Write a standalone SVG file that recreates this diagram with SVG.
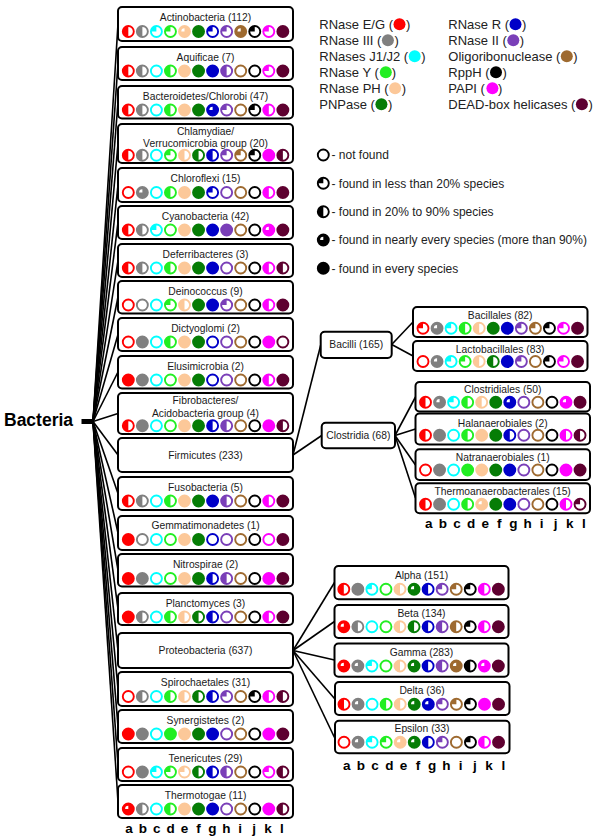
<svg xmlns="http://www.w3.org/2000/svg" xmlns:xlink="http://www.w3.org/1999/xlink" width="600" height="839" viewBox="0 0 600 839">
<style>
.box{fill:#fff;stroke:#000;stroke-width:2}
.t{font-family:"Liberation Sans",Arial,sans-serif;font-size:10.3px;text-anchor:middle;fill:#1a1a1a}
.lg{font-family:"Liberation Sans",Arial,sans-serif;font-size:13px;fill:#222}
.st{font-family:"Liberation Sans",Arial,sans-serif;font-size:12px;fill:#222}
.lt{font-family:"Liberation Sans",Arial,sans-serif;font-size:13.5px;font-weight:bold;text-anchor:middle;fill:#000}
.big{font-family:"Liberation Sans",Arial,sans-serif;font-size:17.5px;font-weight:bold;fill:#000}
.con line{stroke:#000;stroke-width:1.6}
.ca{color:#ff0000}.cb{color:#808080}.cc{color:#00ffff}.cd{color:#22ee22}.ce{color:#fcc899}.cf{color:#067d06}
.cg{color:#0000c8}.ch{color:#7a3fb8}.ci{color:#9e6a30}.cj{color:#000}.ck{color:#ff00ff}.cl{color:#5e0030}
</style>
<defs>
<g id="N"><circle r="5.5" fill="#fff" stroke="currentColor" stroke-width="1.9"/></g>
<g id="L"><circle r="5.5" fill="#fff" stroke="currentColor" stroke-width="1.9"/><path d="M0,0H-5.5A5.5,5.5 0 0 1 0,-5.5Z" fill="currentColor"/></g>
<g id="H"><circle r="5.5" fill="#fff" stroke="currentColor" stroke-width="1.9"/><path d="M0,-5.5A5.5,5.5 0 0 0 0,5.5Z" fill="currentColor"/></g>
<g id="A"><circle r="5.5" fill="currentColor" stroke="currentColor" stroke-width="1.9"/><path d="M0,0H-3.2A3.2,3.2 0 0 1 0,-3.2Z" fill="#fff"/></g>
<g id="F"><circle r="5.5" fill="currentColor" stroke="currentColor" stroke-width="1.9"/></g>
</defs>
<rect width="600" height="839" fill="#fff"/>

<g id="connectors" class="con">
<line x1="93" y1="421.5" x2="118" y2="24"/>
<line x1="93" y1="421.5" x2="118" y2="63.5"/>
<line x1="93" y1="421.5" x2="118" y2="102"/>
<line x1="93" y1="421.5" x2="118" y2="143.5"/>
<line x1="93" y1="421.5" x2="118" y2="185"/>
<line x1="93" y1="421.5" x2="118" y2="222.5"/>
<line x1="93" y1="421.5" x2="118" y2="260.5"/>
<line x1="93" y1="421.5" x2="118" y2="297"/>
<line x1="93" y1="421.5" x2="118" y2="334.5"/>
<line x1="93" y1="421.5" x2="118" y2="372"/>
<line x1="93" y1="421.5" x2="118" y2="413.5"/>
<line x1="93" y1="421.5" x2="118" y2="455"/>
<line x1="93" y1="421.5" x2="118" y2="493.5"/>
<line x1="93" y1="421.5" x2="118" y2="533"/>
<line x1="93" y1="421.5" x2="118" y2="570"/>
<line x1="93" y1="421.5" x2="118" y2="609"/>
<line x1="93" y1="421.5" x2="118" y2="650.5"/>
<line x1="93" y1="421.5" x2="118" y2="689"/>
<line x1="93" y1="421.5" x2="118" y2="726.5"/>
<line x1="93" y1="421.5" x2="118" y2="764.5"/>
<line x1="93" y1="421.5" x2="118" y2="801.5"/>
<line x1="293" y1="455" x2="320.7" y2="345"/>
<line x1="293" y1="455" x2="321.7" y2="435.5"/>
<line x1="391.7" y1="344.5" x2="413" y2="322"/>
<line x1="391.7" y1="344.5" x2="413" y2="356"/>
<line x1="395" y1="435.5" x2="415.5" y2="397"/>
<line x1="395" y1="435.5" x2="415.5" y2="429"/>
<line x1="395" y1="435.5" x2="415.5" y2="465"/>
<line x1="395" y1="435.5" x2="415.5" y2="498"/>
<line x1="293" y1="650.5" x2="334.5" y2="582.5"/>
<line x1="293" y1="650.5" x2="334.5" y2="621.5"/>
<line x1="293" y1="650.5" x2="334.5" y2="660"/>
<line x1="293" y1="650.5" x2="334.5" y2="698.5"/>
<line x1="293" y1="650.5" x2="334.5" y2="737.5"/>
</g>

<g id="bacteria">
<text class="big" x="4" y="426">Bacteria</text>
<rect x="81.5" y="419" width="12" height="5" fill="#000"/>
</g>

<g id="actinobacteria" transform="translate(118,7)"><rect class="box" width="175" height="34" rx="4"/><text class="t" x="87.5" y="13.5">Actinobacteria (112)</text>
<g transform="translate(10.3,24.5)"><use href="#H" class="ca"/><use href="#H" class="cb" x="14.05"/><use href="#L" class="cc" x="28.1"/><use href="#L" class="cd" x="42.15"/><use href="#A" class="ce" x="56.2"/><use href="#F" class="cf" x="70.25"/><use href="#L" class="cg" x="84.3"/><use href="#L" class="ch" x="98.35"/><use href="#A" class="ci" x="112.4"/><use href="#L" class="cj" x="126.45"/><use href="#L" class="ck" x="140.5"/><use href="#F" class="cl" x="154.55"/></g></g>

<g id="aquificae" transform="translate(118,47)"><rect class="box" width="175" height="33" rx="4"/><text class="t" x="87.5" y="13.5">Aquificae (7)</text>
<g transform="translate(10.3,24)"><use href="#H" class="ca"/><use href="#H" class="cb" x="14.05"/><use href="#N" class="cc" x="28.1"/><use href="#H" class="cd" x="42.15"/><use href="#F" class="ce" x="56.2"/><use href="#F" class="cf" x="70.25"/><use href="#F" class="cg" x="84.3"/><use href="#H" class="ch" x="98.35"/><use href="#N" class="ci" x="112.4"/><use href="#N" class="cj" x="126.45"/><use href="#L" class="ck" x="140.5"/><use href="#F" class="cl" x="154.55"/></g></g>

<g id="bacteroidetes" transform="translate(118,86)"><rect class="box" width="175" height="32.5" rx="4"/><text class="t" x="87.5" y="13.5">Bacteroidetes/Chlorobi (47)</text>
<g transform="translate(10.3,24)"><use href="#H" class="ca"/><use href="#H" class="cb" x="14.05"/><use href="#N" class="cc" x="28.1"/><use href="#H" class="cd" x="42.15"/><use href="#F" class="ce" x="56.2"/><use href="#F" class="cf" x="70.25"/><use href="#A" class="cg" x="84.3"/><use href="#L" class="ch" x="98.35"/><use href="#N" class="ci" x="112.4"/><use href="#L" class="cj" x="126.45"/><use href="#H" class="ck" x="140.5"/><use href="#F" class="cl" x="154.55"/></g></g>

<g id="chlamydiae" transform="translate(118,124)"><rect class="box" width="175" height="39" rx="4"/><text class="t" x="87.5" y="10.5">Chlamydiae/</text><text class="t" x="87.5" y="23">Verrucomicrobia group (20)</text>
<g transform="translate(10.3,31.3)"><use href="#H" class="ca"/><use href="#H" class="cb" x="14.05"/><use href="#N" class="cc" x="28.1"/><use href="#L" class="cd" x="42.15"/><use href="#H" class="ce" x="56.2"/><use href="#H" class="cf" x="70.25"/><use href="#H" class="cg" x="84.3"/><use href="#L" class="ch" x="98.35"/><use href="#L" class="ci" x="112.4"/><use href="#L" class="cj" x="126.45"/><use href="#F" class="ck" x="140.5"/><use href="#H" class="cl" x="154.55"/></g></g>

<g id="chloroflexi" transform="translate(118,168)"><rect class="box" width="175" height="34" rx="4"/><text class="t" x="87.5" y="13.5">Chloroflexi (15)</text>
<g transform="translate(10.3,24.5)"><use href="#N" class="ca"/><use href="#A" class="cb" x="14.05"/><use href="#N" class="cc" x="28.1"/><use href="#H" class="cd" x="42.15"/><use href="#F" class="ce" x="56.2"/><use href="#F" class="cf" x="70.25"/><use href="#L" class="cg" x="84.3"/><use href="#N" class="ch" x="98.35"/><use href="#N" class="ci" x="112.4"/><use href="#N" class="cj" x="126.45"/><use href="#H" class="ck" x="140.5"/><use href="#F" class="cl" x="154.55"/></g></g>

<g id="cyanobacteria" transform="translate(118,206)"><rect class="box" width="175" height="33" rx="4"/><text class="t" x="87.5" y="13.5">Cyanobacteria (42)</text>
<g transform="translate(10.3,24)"><use href="#H" class="ca"/><use href="#H" class="cb" x="14.05"/><use href="#L" class="cc" x="28.1"/><use href="#N" class="cd" x="42.15"/><use href="#F" class="ce" x="56.2"/><use href="#F" class="cf" x="70.25"/><use href="#F" class="cg" x="84.3"/><use href="#F" class="ch" x="98.35"/><use href="#N" class="ci" x="112.4"/><use href="#N" class="cj" x="126.45"/><use href="#A" class="ck" x="140.5"/><use href="#F" class="cl" x="154.55"/></g></g>

<g id="deferribacteres" transform="translate(118,244)"><rect class="box" width="175" height="33" rx="4"/><text class="t" x="87.5" y="13.5">Deferribacteres (3)</text>
<g transform="translate(10.3,24)"><use href="#H" class="ca"/><use href="#H" class="cb" x="14.05"/><use href="#N" class="cc" x="28.1"/><use href="#H" class="cd" x="42.15"/><use href="#F" class="ce" x="56.2"/><use href="#F" class="cf" x="70.25"/><use href="#F" class="cg" x="84.3"/><use href="#N" class="ch" x="98.35"/><use href="#N" class="ci" x="112.4"/><use href="#N" class="cj" x="126.45"/><use href="#H" class="ck" x="140.5"/><use href="#H" class="cl" x="154.55"/></g></g>

<g id="deinococcus" transform="translate(118,281)"><rect class="box" width="175" height="32.5" rx="4"/><text class="t" x="87.5" y="13.5">Deinococcus (9)</text>
<g transform="translate(10.3,24)"><use href="#N" class="ca"/><use href="#N" class="cb" x="14.05"/><use href="#N" class="cc" x="28.1"/><use href="#L" class="cd" x="42.15"/><use href="#H" class="ce" x="56.2"/><use href="#F" class="cf" x="70.25"/><use href="#F" class="cg" x="84.3"/><use href="#L" class="ch" x="98.35"/><use href="#N" class="ci" x="112.4"/><use href="#N" class="cj" x="126.45"/><use href="#H" class="ck" x="140.5"/><use href="#F" class="cl" x="154.55"/></g></g>

<g id="dictyoglomi" transform="translate(118,318)"><rect class="box" width="175" height="33" rx="4"/><text class="t" x="87.5" y="13.5">Dictyoglomi (2)</text>
<g transform="translate(10.3,24)"><use href="#N" class="ca"/><use href="#F" class="cb" x="14.05"/><use href="#N" class="cc" x="28.1"/><use href="#H" class="cd" x="42.15"/><use href="#F" class="ce" x="56.2"/><use href="#F" class="cf" x="70.25"/><use href="#N" class="cg" x="84.3"/><use href="#N" class="ch" x="98.35"/><use href="#N" class="ci" x="112.4"/><use href="#N" class="cj" x="126.45"/><use href="#F" class="ck" x="140.5"/><use href="#N" class="cl" x="154.55"/></g></g>

<g id="elusimicrobia" transform="translate(118,356)"><rect class="box" width="175" height="32.5" rx="4"/><text class="t" x="87.5" y="13.5">Elusimicrobia (2)</text>
<g transform="translate(10.3,24)"><use href="#F" class="ca"/><use href="#F" class="cb" x="14.05"/><use href="#N" class="cc" x="28.1"/><use href="#N" class="cd" x="42.15"/><use href="#F" class="ce" x="56.2"/><use href="#F" class="cf" x="70.25"/><use href="#N" class="cg" x="84.3"/><use href="#N" class="ch" x="98.35"/><use href="#N" class="ci" x="112.4"/><use href="#N" class="cj" x="126.45"/><use href="#H" class="ck" x="140.5"/><use href="#F" class="cl" x="154.55"/></g></g>

<g id="fibrobacteres" transform="translate(118,393)"><rect class="box" width="175" height="41" rx="4"/><text class="t" x="87.5" y="11">Fibrobacteres/</text><text class="t" x="87.5" y="24">Acidobacteria group (4)</text>
<g transform="translate(10.3,32.7)"><use href="#H" class="ca"/><use href="#F" class="cb" x="14.05"/><use href="#N" class="cc" x="28.1"/><use href="#N" class="cd" x="42.15"/><use href="#F" class="ce" x="56.2"/><use href="#F" class="cf" x="70.25"/><use href="#H" class="cg" x="84.3"/><use href="#H" class="ch" x="98.35"/><use href="#N" class="ci" x="112.4"/><use href="#N" class="cj" x="126.45"/><use href="#F" class="ck" x="140.5"/><use href="#H" class="cl" x="154.55"/></g></g>

<g id="firmicutes" transform="translate(118,438)"><rect class="box" width="175" height="34" rx="4"/><text class="t" x="87.5" y="20.5">Firmicutes (233)</text></g>

<g id="fusobacteria" transform="translate(118,477)"><rect class="box" width="175" height="33" rx="4"/><text class="t" x="87.5" y="13.5">Fusobacteria (5)</text>
<g transform="translate(10.3,24)"><use href="#H" class="ca"/><use href="#H" class="cb" x="14.05"/><use href="#N" class="cc" x="28.1"/><use href="#H" class="cd" x="42.15"/><use href="#F" class="ce" x="56.2"/><use href="#F" class="cf" x="70.25"/><use href="#F" class="cg" x="84.3"/><use href="#H" class="ch" x="98.35"/><use href="#N" class="ci" x="112.4"/><use href="#N" class="cj" x="126.45"/><use href="#H" class="ck" x="140.5"/><use href="#F" class="cl" x="154.55"/></g></g>

<g id="gemmatimonadetes" transform="translate(118,516)"><rect class="box" width="175" height="34" rx="4"/><text class="t" x="87.5" y="12.5">Gemmatimonadetes (1)</text>
<g transform="translate(10.3,23.5)"><use href="#F" class="ca"/><use href="#N" class="cb" x="14.05"/><use href="#N" class="cc" x="28.1"/><use href="#N" class="cd" x="42.15"/><use href="#F" class="ce" x="56.2"/><use href="#F" class="cf" x="70.25"/><use href="#N" class="cg" x="84.3"/><use href="#N" class="ch" x="98.35"/><use href="#N" class="ci" x="112.4"/><use href="#N" class="cj" x="126.45"/><use href="#N" class="ck" x="140.5"/><use href="#F" class="cl" x="154.55"/></g></g>

<g id="nitrospirae" transform="translate(118,554)"><rect class="box" width="175" height="32.5" rx="4"/><text class="t" x="87.5" y="13.5">Nitrospirae (2)</text>
<g transform="translate(10.3,24.5)"><use href="#F" class="ca"/><use href="#F" class="cb" x="14.05"/><use href="#N" class="cc" x="28.1"/><use href="#N" class="cd" x="42.15"/><use href="#F" class="ce" x="56.2"/><use href="#F" class="cf" x="70.25"/><use href="#H" class="cg" x="84.3"/><use href="#H" class="ch" x="98.35"/><use href="#N" class="ci" x="112.4"/><use href="#N" class="cj" x="126.45"/><use href="#F" class="ck" x="140.5"/><use href="#F" class="cl" x="154.55"/></g></g>

<g id="planctomyces" transform="translate(118,593)"><rect class="box" width="175" height="32" rx="4"/><text class="t" x="87.5" y="13.5">Planctomyces (3)</text>
<g transform="translate(10.3,24)"><use href="#F" class="ca"/><use href="#H" class="cb" x="14.05"/><use href="#N" class="cc" x="28.1"/><use href="#H" class="cd" x="42.15"/><use href="#H" class="ce" x="56.2"/><use href="#H" class="cf" x="70.25"/><use href="#H" class="cg" x="84.3"/><use href="#N" class="ch" x="98.35"/><use href="#N" class="ci" x="112.4"/><use href="#N" class="cj" x="126.45"/><use href="#H" class="ck" x="140.5"/><use href="#F" class="cl" x="154.55"/></g></g>

<g id="proteobacteria" transform="translate(118,633)"><rect class="box" width="175" height="35" rx="4"/><text class="t" x="87.5" y="20.5">Proteobacteria (637)</text></g>

<g id="spirochaetales" transform="translate(118,672)"><rect class="box" width="175" height="34" rx="4"/><text class="t" x="87.5" y="13.5">Spirochaetales (31)</text>
<g transform="translate(10.3,24.5)"><use href="#N" class="ca"/><use href="#H" class="cb" x="14.05"/><use href="#N" class="cc" x="28.1"/><use href="#H" class="cd" x="42.15"/><use href="#H" class="ce" x="56.2"/><use href="#H" class="cf" x="70.25"/><use href="#H" class="cg" x="84.3"/><use href="#L" class="ch" x="98.35"/><use href="#N" class="ci" x="112.4"/><use href="#L" class="cj" x="126.45"/><use href="#H" class="ck" x="140.5"/><use href="#H" class="cl" x="154.55"/></g></g>

<g id="synergistetes" transform="translate(118,710)"><rect class="box" width="175" height="33" rx="4"/><text class="t" x="87.5" y="13.5">Synergistetes (2)</text>
<g transform="translate(10.3,24)"><use href="#F" class="ca"/><use href="#F" class="cb" x="14.05"/><use href="#N" class="cc" x="28.1"/><use href="#F" class="cd" x="42.15"/><use href="#F" class="ce" x="56.2"/><use href="#F" class="cf" x="70.25"/><use href="#F" class="cg" x="84.3"/><use href="#N" class="ch" x="98.35"/><use href="#N" class="ci" x="112.4"/><use href="#N" class="cj" x="126.45"/><use href="#F" class="ck" x="140.5"/><use href="#F" class="cl" x="154.55"/></g></g>

<g id="tenericutes" transform="translate(118,748)"><rect class="box" width="175" height="33" rx="4"/><text class="t" x="87.5" y="13.5">Tenericutes (29)</text>
<g transform="translate(10.3,24)"><use href="#N" class="ca"/><use href="#F" class="cb" x="14.05"/><use href="#L" class="cc" x="28.1"/><use href="#L" class="cd" x="42.15"/><use href="#L" class="ce" x="56.2"/><use href="#H" class="cf" x="70.25"/><use href="#H" class="cg" x="84.3"/><use href="#H" class="ch" x="98.35"/><use href="#N" class="ci" x="112.4"/><use href="#N" class="cj" x="126.45"/><use href="#L" class="ck" x="140.5"/><use href="#H" class="cl" x="154.55"/></g></g>

<g id="thermotogae" transform="translate(118,785)"><rect class="box" width="175" height="33" rx="4"/><text class="t" x="87.5" y="13.5">Thermotogae (11)</text>
<g transform="translate(10.3,24)"><use href="#A" class="ca"/><use href="#H" class="cb" x="14.05"/><use href="#N" class="cc" x="28.1"/><use href="#H" class="cd" x="42.15"/><use href="#F" class="ce" x="56.2"/><use href="#F" class="cf" x="70.25"/><use href="#F" class="cg" x="84.3"/><use href="#N" class="ch" x="98.35"/><use href="#N" class="ci" x="112.4"/><use href="#N" class="cj" x="126.45"/><use href="#F" class="ck" x="140.5"/><use href="#H" class="cl" x="154.55"/></g></g>

<g id="bacilli" transform="translate(320.7,331.7)"><rect class="box" width="71" height="26.3" rx="4"/><text class="t" x="35.5" y="16.5">Bacilli (165)</text></g>
<g id="clostridia" transform="translate(321.7,422.7)"><rect class="box" width="73.3" height="25.5" rx="4"/><text class="t" x="36.6" y="16.5">Clostridia (68)</text></g>

<g id="bacillales" transform="translate(413,307)"><rect class="box" width="174.5" height="30" rx="4"/><text class="t" x="87.2" y="11.5">Bacillales (82)</text>
<g transform="translate(10,21.3)"><use href="#L" class="ca"/><use href="#A" class="cb" x="14.05"/><use href="#L" class="cc" x="28.1"/><use href="#H" class="cd" x="42.15"/><use href="#H" class="ce" x="56.2"/><use href="#F" class="cf" x="70.25"/><use href="#F" class="cg" x="84.3"/><use href="#L" class="ch" x="98.35"/><use href="#L" class="ci" x="112.4"/><use href="#L" class="cj" x="126.45"/><use href="#L" class="ck" x="140.5"/><use href="#F" class="cl" x="154.55"/></g></g>

<g id="lactobacillales" transform="translate(413,341)"><rect class="box" width="174.5" height="30" rx="4"/><text class="t" x="87.2" y="12">Lactobacillales (83)</text>
<g transform="translate(10,20.5)"><use href="#N" class="ca"/><use href="#A" class="cb" x="14.05"/><use href="#L" class="cc" x="28.1"/><use href="#L" class="cd" x="42.15"/><use href="#H" class="ce" x="56.2"/><use href="#H" class="cf" x="70.25"/><use href="#F" class="cg" x="84.3"/><use href="#L" class="ch" x="98.35"/><use href="#N" class="ci" x="112.4"/><use href="#L" class="cj" x="126.45"/><use href="#L" class="ck" x="140.5"/><use href="#F" class="cl" x="154.55"/></g></g>

<g id="clostridiales" transform="translate(415.5,382)"><rect class="box" width="174.5" height="29.5" rx="4"/><text class="t" x="87.2" y="11.3">Clostridiales (50)</text>
<g transform="translate(10,20.3)"><use href="#H" class="ca"/><use href="#A" class="cb" x="14.05"/><use href="#L" class="cc" x="28.1"/><use href="#H" class="cd" x="42.15"/><use href="#H" class="ce" x="56.2"/><use href="#F" class="cf" x="70.25"/><use href="#A" class="cg" x="84.3"/><use href="#N" class="ch" x="98.35"/><use href="#N" class="ci" x="112.4"/><use href="#N" class="cj" x="126.45"/><use href="#A" class="ck" x="140.5"/><use href="#F" class="cl" x="154.55"/></g></g>

<g id="halanaerobiales" transform="translate(415.5,413.5)"><rect class="box" width="174.5" height="31" rx="4"/><text class="t" x="87.2" y="13.5">Halanaerobiales (2)</text>
<g transform="translate(10,21.8)"><use href="#H" class="ca"/><use href="#F" class="cb" x="14.05"/><use href="#N" class="cc" x="28.1"/><use href="#H" class="cd" x="42.15"/><use href="#F" class="ce" x="56.2"/><use href="#F" class="cf" x="70.25"/><use href="#H" class="cg" x="84.3"/><use href="#N" class="ch" x="98.35"/><use href="#N" class="ci" x="112.4"/><use href="#N" class="cj" x="126.45"/><use href="#H" class="ck" x="140.5"/><use href="#H" class="cl" x="154.55"/></g></g>

<g id="natranaerobiales" transform="translate(415.5,449.3)"><rect class="box" width="174.5" height="30.7" rx="4"/><text class="t" x="87.2" y="11.4">Natranaerobiales (1)</text>
<g transform="translate(10,20.7)"><use href="#N" class="ca"/><use href="#F" class="cb" x="14.05"/><use href="#N" class="cc" x="28.1"/><use href="#F" class="cd" x="42.15"/><use href="#F" class="ce" x="56.2"/><use href="#F" class="cf" x="70.25"/><use href="#F" class="cg" x="84.3"/><use href="#N" class="ch" x="98.35"/><use href="#N" class="ci" x="112.4"/><use href="#N" class="cj" x="126.45"/><use href="#F" class="ck" x="140.5"/><use href="#F" class="cl" x="154.55"/></g></g>

<g id="thermoanaerobacterales" transform="translate(415.5,483.3)"><rect class="box" width="174.5" height="30" rx="4"/><text class="t" x="87.2" y="11.4">Thermoanaerobacterales (15)</text>
<g transform="translate(10,21)"><use href="#H" class="ca"/><use href="#F" class="cb" x="14.05"/><use href="#N" class="cc" x="28.1"/><use href="#H" class="cd" x="42.15"/><use href="#A" class="ce" x="56.2"/><use href="#F" class="cf" x="70.25"/><use href="#F" class="cg" x="84.3"/><use href="#N" class="ch" x="98.35"/><use href="#N" class="ci" x="112.4"/><use href="#N" class="cj" x="126.45"/><use href="#H" class="ck" x="140.5"/><use href="#L" class="cl" x="154.55"/></g></g>

<g id="alpha" transform="translate(334.5,566)"><rect class="box" width="174" height="33.3" rx="4"/><text class="t" x="87" y="13">Alpha (151)</text>
<g transform="translate(9.3,23.3)"><use href="#H" class="ca"/><use href="#F" class="cb" x="14.05"/><use href="#L" class="cc" x="28.1"/><use href="#N" class="cd" x="42.15"/><use href="#H" class="ce" x="56.2"/><use href="#A" class="cf" x="70.25"/><use href="#H" class="cg" x="84.3"/><use href="#L" class="ch" x="98.35"/><use href="#L" class="ci" x="112.4"/><use href="#L" class="cj" x="126.45"/><use href="#H" class="ck" x="140.5"/><use href="#F" class="cl" x="154.55"/></g></g>

<g id="beta" transform="translate(334.5,605)"><rect class="box" width="174" height="33" rx="4"/><text class="t" x="87" y="11.7">Beta (134)</text>
<g transform="translate(9.3,21.7)"><use href="#A" class="ca"/><use href="#H" class="cb" x="14.05"/><use href="#N" class="cc" x="28.1"/><use href="#N" class="cd" x="42.15"/><use href="#H" class="ce" x="56.2"/><use href="#H" class="cf" x="70.25"/><use href="#H" class="cg" x="84.3"/><use href="#H" class="ch" x="98.35"/><use href="#H" class="ci" x="112.4"/><use href="#L" class="cj" x="126.45"/><use href="#H" class="ck" x="140.5"/><use href="#F" class="cl" x="154.55"/></g></g>

<g id="gamma" transform="translate(334.5,643.5)"><rect class="box" width="174" height="33.2" rx="4"/><text class="t" x="87" y="12.2">Gamma (283)</text>
<g transform="translate(9.3,22.5)"><use href="#A" class="ca"/><use href="#A" class="cb" x="14.05"/><use href="#L" class="cc" x="28.1"/><use href="#N" class="cd" x="42.15"/><use href="#H" class="ce" x="56.2"/><use href="#A" class="cf" x="70.25"/><use href="#H" class="cg" x="84.3"/><use href="#H" class="ch" x="98.35"/><use href="#A" class="ci" x="112.4"/><use href="#H" class="cj" x="126.45"/><use href="#A" class="ck" x="140.5"/><use href="#F" class="cl" x="154.55"/></g></g>

<g id="delta" transform="translate(335,682)"><rect class="box" width="174.5" height="33" rx="4"/><text class="t" x="87" y="12">Delta (36)</text>
<g transform="translate(9,22.3)"><use href="#H" class="ca"/><use href="#A" class="cb" x="14.05"/><use href="#N" class="cc" x="28.1"/><use href="#H" class="cd" x="42.15"/><use href="#H" class="ce" x="56.2"/><use href="#A" class="cf" x="70.25"/><use href="#A" class="cg" x="84.3"/><use href="#L" class="ch" x="98.35"/><use href="#L" class="ci" x="112.4"/><use href="#L" class="cj" x="126.45"/><use href="#F" class="ck" x="140.5"/><use href="#F" class="cl" x="154.55"/></g></g>

<g id="epsilon" transform="translate(335,720.7)"><rect class="box" width="174.5" height="32.6" rx="4"/><text class="t" x="87" y="11.6">Epsilon (33)</text>
<g transform="translate(9,21.6)"><use href="#N" class="ca"/><use href="#A" class="cb" x="14.05"/><use href="#L" class="cc" x="28.1"/><use href="#L" class="cd" x="42.15"/><use href="#A" class="ce" x="56.2"/><use href="#A" class="cf" x="70.25"/><use href="#H" class="cg" x="84.3"/><use href="#L" class="ch" x="98.35"/><use href="#N" class="ci" x="112.4"/><use href="#L" class="cj" x="126.45"/><use href="#H" class="ck" x="140.5"/><use href="#F" class="cl" x="154.55"/></g></g>

<g id="letters-left" class="lt">
<text x="129" y="833">a</text><text x="142.9" y="833">b</text><text x="156.8" y="833">c</text><text x="170.7" y="833">d</text><text x="184.6" y="833">e</text><text x="198.5" y="833">f</text><text x="212.4" y="833">g</text><text x="226.3" y="833">h</text><text x="240.2" y="833">i</text><text x="254.1" y="833">j</text><text x="268" y="833">k</text><text x="281.9" y="833">l</text>
</g>
<g id="letters-firmicutes" class="lt">
<text x="428.8" y="527.5">a</text><text x="442.9" y="527.5">b</text><text x="457" y="527.5">c</text><text x="471.1" y="527.5">d</text><text x="485.2" y="527.5">e</text><text x="499.3" y="527.5">f</text><text x="513.4" y="527.5">g</text><text x="527.5" y="527.5">h</text><text x="541.6" y="527.5">i</text><text x="555.7" y="527.5">j</text><text x="569.8" y="527.5">k</text><text x="583.9" y="527.5">l</text>
</g>
<g id="letters-proteobacteria" class="lt">
<text x="346.7" y="769.5">a</text><text x="360.9" y="769.5">b</text><text x="375.1" y="769.5">c</text><text x="389.4" y="769.5">d</text><text x="403.6" y="769.5">e</text><text x="417.9" y="769.5">f</text><text x="432.1" y="769.5">g</text><text x="446.3" y="769.5">h</text><text x="460.6" y="769.5">i</text><text x="474.8" y="769.5">j</text><text x="489.1" y="769.5">k</text><text x="503.3" y="769.5">l</text>
</g>

<g id="legend-enzymes">
<text class="lg" x="319.3" y="29">RNase E/G (<tspan dx="13">)</tspan></text><circle class="ca" cx="399.5" cy="24.3" r="6" fill="currentColor"/>
<text class="lg" x="319.3" y="45">RNase III (<tspan dx="13">)</tspan></text><circle class="cb" cx="387.9" cy="40.3" r="6" fill="currentColor"/>
<text class="lg" x="319.3" y="61">RNases J1/J2 (<tspan dx="13">)</tspan></text><circle class="cc" cx="414.7" cy="56.3" r="6" fill="currentColor"/>
<text class="lg" x="319.3" y="77">RNase Y (<tspan dx="13">)</tspan></text><circle class="cd" cx="385.8" cy="72.3" r="6" fill="currentColor"/>
<text class="lg" x="319.3" y="93">RNase PH (<tspan dx="13">)</tspan></text><circle class="ce" cx="395.1" cy="88.3" r="6" fill="currentColor"/>
<text class="lg" x="319.3" y="109">PNPase (<tspan dx="13">)</tspan></text><circle class="cf" cx="381.4" cy="104.3" r="6" fill="currentColor"/>
<text class="lg" x="448.3" y="29">RNase R (<tspan dx="13">)</tspan></text><circle class="cg" cx="515.5" cy="24.3" r="6" fill="currentColor"/>
<text class="lg" x="448.3" y="45">RNase II (<tspan dx="13">)</tspan></text><circle class="ch" cx="513.3" cy="40.3" r="6" fill="currentColor"/>
<text class="lg" x="448.3" y="61">Oligoribonuclease (<tspan dx="13">)</tspan></text><circle class="ci" cx="566.8" cy="56.3" r="6" fill="currentColor"/>
<text class="lg" x="448.3" y="77">RppH (<tspan dx="13">)</tspan></text><circle class="cj" cx="496" cy="72.3" r="6" fill="currentColor"/>
<text class="lg" x="448.3" y="93">PAPI (<tspan dx="13">)</tspan></text><circle class="ck" cx="492.4" cy="88.3" r="6" fill="currentColor"/>
<text class="lg" x="448.3" y="109">DEAD-box helicases (<tspan dx="13">)</tspan></text><circle class="cl" cx="581.9" cy="104.3" r="6" fill="currentColor"/>
</g>

<g id="legend-status">
<use href="#N" class="cj" x="323.3" y="155"/><text class="st" x="331.5" y="159.3">- not found</text>
<use href="#L" class="cj" x="323.3" y="183.3"/><text class="st" x="331.5" y="187.6">- found in less than 20% species</text>
<use href="#H" class="cj" x="323.3" y="211.7"/><text class="st" x="331.5" y="216">- found in 20% to 90% species</text>
<use href="#A" class="cj" x="323.3" y="240"/><text class="st" x="331.5" y="244.3">- found in nearly every species (more than 90%)</text>
<use href="#F" class="cj" x="323.3" y="268.3"/><text class="st" x="331.5" y="272.6">- found in every species</text>
</g>
</svg>
